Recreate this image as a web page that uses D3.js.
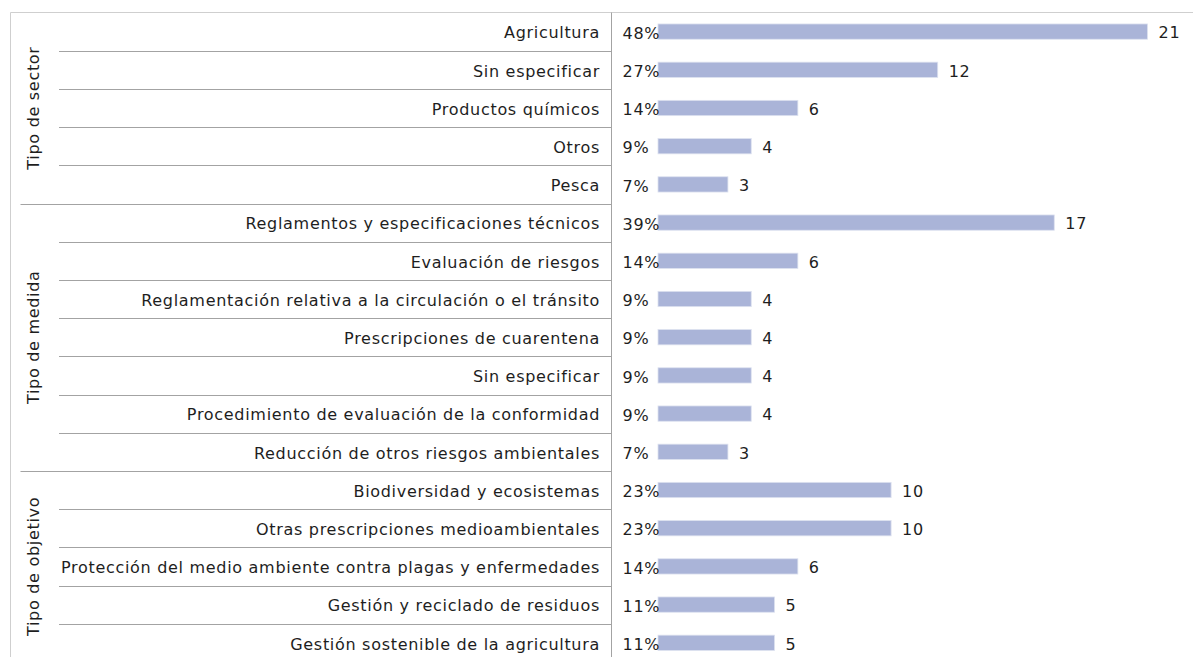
<!DOCTYPE html>
<html>
<head>
<meta charset="utf-8">
<script src="https://cdn.jsdelivr.net/npm/d3@7"></script>
<style>
  body { margin: 0; background: #fff; }
  text { font-family: "DejaVu Sans", Verdana, sans-serif; font-size: 16px; letter-spacing: 0.7px; fill: #1e1e1e; }
</style>
</head>
<body>
<script>
// data
const groups = ["Tipo de sector", "Tipo de medida", "Tipo de objetivo"];
const groupSizes = [5, 7, 5];
const categories = [
  "Agricultura",
  "Sin especificar",
  "Productos químicos",
  "Otros",
  "Pesca",
  "Reglamentos y especificaciones técnicos",
  "Evaluación de riesgos",
  "Reglamentación relativa a la circulación o el tránsito",
  "Prescripciones de cuarentena",
  "Sin especificar",
  "Procedimiento de evaluación de la conformidad",
  "Reducción de otros riesgos ambientales",
  "Biodiversidad y ecosistemas",
  "Otras prescripciones medioambientales",
  "Protección del medio ambiente contra plagas y enfermedades",
  "Gestión y reciclado de residuos",
  "Gestión sostenible de la agricultura"
];
const counts = [21, 12, 6, 4, 3, 17, 6, 4, 4, 4, 4, 3, 10, 10, 6, 5, 5];
const percents = ["48%", "27%", "14%", "9%", "7%", "39%", "14%", "9%", "9%", "9%", "9%", "7%", "23%", "23%", "14%", "11%", "11%"];

const W = 1200, H = 657;
const topY = 12.5, rowH = 38.2;
const axisX = 611.5, labelX = 600;

const svg = d3.select("body").append("svg")
  .attr("width", W)
  .attr("height", H);

const idx = d3.range(categories.length);

const y = d3.scaleBand()
  .domain(idx)
  .range([topY, topY + rowH * categories.length])
  .paddingInner(0.6)
  .paddingOuter(0.3);

const x = d3.scaleLinear()
  .domain([0, 21])
  .range([658, 1147.5]);

// outer frame (top and left only are visible)
svg.append("line")
  .attr("x1", 10.5).attr("x2", 1193)
  .attr("y1", topY).attr("y2", topY)
  .attr("stroke", "#cfcfcf");
svg.append("line")
  .attr("x1", 10.5).attr("x2", 10.5)
  .attr("y1", topY).attr("y2", H)
  .attr("stroke", "#cfcfcf");

// group start indices
const groupStart = groupSizes.map((s, i) => d3.sum(groupSizes.slice(0, i)));

// separators between rows
svg.selectAll(".sep")
  .data(idx.slice(1))
  .enter().append("line")
  .attr("class", "sep")
  .attr("x1", d => groupStart.includes(d) ? 20.5 : 59)
  .attr("x2", axisX)
  .attr("y1", d => Math.round(y(d) - y.step() * y.paddingInner() / 2) + 0.5)
  .attr("y2", d => Math.round(y(d) - y.step() * y.paddingInner() / 2) + 0.5)
  .attr("stroke", "#a3a3a3");

// category axis line
svg.append("line")
  .attr("x1", axisX).attr("x2", axisX)
  .attr("y1", topY).attr("y2", H)
  .attr("stroke", "#a3a3a3");

// bars
svg.selectAll(".bar")
  .data(idx)
  .enter().append("rect")
  .attr("class", "bar")
  .attr("x", x(0))
  .attr("y", d => y(d))
  .attr("width", d => x(counts[d]) - x(0))
  .attr("height", y.bandwidth())
  .attr("fill", "#aab4d8")
  .attr("stroke", "#dde1ef")
  .attr("stroke-width", 0.8);

// category labels
svg.selectAll(".cat")
  .data(idx)
  .enter().append("text")
  .attr("class", "cat")
  .attr("x", labelX)
  .attr("y", d => y(d) + y.bandwidth() / 2)
  .attr("dy", "0.43em")
  .attr("text-anchor", "end")
  .text(d => categories[d]);

// percent labels
svg.selectAll(".pct")
  .data(idx)
  .enter().append("text")
  .attr("class", "pct")
  .attr("x", 622.5)
  .attr("y", d => y(d) + y.bandwidth() / 2)
  .attr("dy", "0.45em")
  .text(d => percents[d]);

// value labels
svg.selectAll(".val")
  .data(idx)
  .enter().append("text")
  .attr("class", "val")
  .attr("x", d => x(counts[d]) + 11)
  .attr("y", d => y(d) + y.bandwidth() / 2)
  .attr("dy", "0.43em")
  .text(d => counts[d]);

// group titles, rotated
svg.selectAll(".grp")
  .data(groups)
  .enter().append("text")
  .attr("class", "grp")
  .attr("transform", (d, i) => {
    const y0 = topY + rowH * groupStart[i];
    const y1 = y0 + rowH * groupSizes[i];
    return "translate(33," + (y0 + y1) / 2 + ") rotate(-90)";
  })
  .attr("dy", "0.36em")
  .attr("text-anchor", "middle")
  .text(d => d);
</script>
</body>
</html>
